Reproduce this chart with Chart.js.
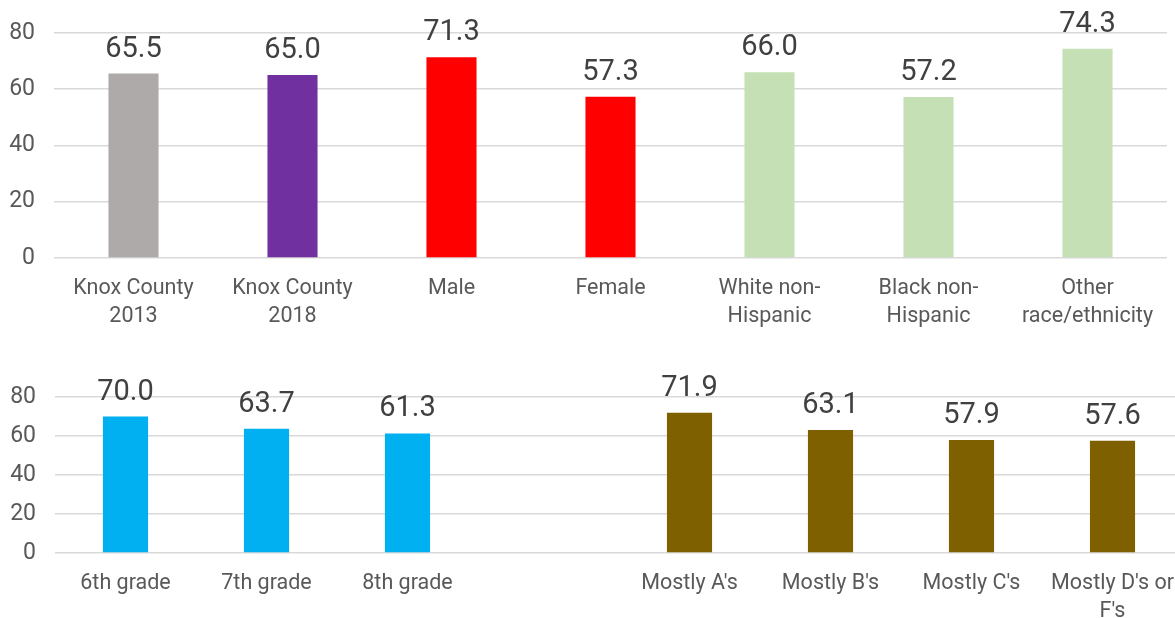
<!DOCTYPE html>
<html>
<head>
<meta charset="utf-8">
<script src="https://cdn.jsdelivr.net/npm/chart.js@4"></script>
<style>
  body { margin: 0; width: 1175px; height: 618px; overflow: hidden; background: #fff; }
  #topBox { position: absolute; left: 0; top: 0; width: 1175px; height: 340px; }
  #botBox { position: absolute; left: 0; top: 340px; width: 1183px; height: 278px; }
</style>
</head>
<body>
<div id="topBox"><canvas id="topChart" width="1175" height="340"></canvas></div>
<div id="botBox"><canvas id="botChart" width="1183" height="278"></canvas></div>
<script>
// top panel
var topLabels = [
  ["Knox County", "2013"],
  ["Knox County", "2018"],
  "Male",
  "Female",
  ["White non-", "Hispanic"],
  ["Black non-", "Hispanic"],
  ["Other", "race/ethnicity"],
];
var topValues = [65.5, 65.0, 71.3, 57.3, 66.0, 57.2, 74.3];
var topColors = ["#AEAAAA", "#7030A0", "#FF0000", "#FF0000", "#C5E0B4", "#C5E0B4", "#C5E0B4"];

// bottom panel (one empty slot between grade and marks groups)
var botLabels = [
  "6th grade",
  "7th grade",
  "8th grade",
  "",
  "Mostly A's",
  "Mostly B's",
  "Mostly C's",
  ["Mostly D's or", "F's"],
];
var botValues = [70.0, 63.7, 61.3, null, 71.9, 63.1, 57.9, 57.6];
var botColors = ["#00B0F0", "#00B0F0", "#00B0F0", "#00B0F0", "#7F6000", "#7F6000", "#7F6000", "#7F6000"];

var yTicks = [0, 20, 40, 60, 80];

var FONT = "Roboto, 'Liberation Sans', sans-serif";

// value labels above bars, allowed to spill over the plot top
var valueLabels = {
  id: "valueLabels",
  afterDatasetsDraw: function (chart) {
    var ctx = chart.ctx;
    var ds = chart.data.datasets[0];
    var meta = chart.getDatasetMeta(0);
    ctx.save();
    ctx.font = "29px " + FONT;
    ctx.fillStyle = "#404040";
    ctx.textAlign = "center";
    ctx.textBaseline = "alphabetic";
    meta.data.forEach(function (bar, i) {
      var v = ds.data[i];
      if (v === null) return;
      ctx.fillText(v.toFixed(1), bar.x, bar.y - 17);
    });
    ctx.restore();
  },
};

function makeChart(id, labels, values, colors, padTop, padRight, yWidth, xHeight, pct) {
  return new Chart(id, {
    type: "bar",
    data: {
      labels: labels,
      datasets: [{
        data: values,
        backgroundColor: colors,
        barPercentage: pct,
        categoryPercentage: 1,
      }],
    },
    plugins: [valueLabels],
    options: {
      responsive: false,
      animation: false,
      layout: { padding: { top: padTop, left: 0, right: padRight, bottom: 0 } },
      plugins: { legend: { display: false }, tooltip: { enabled: false } },
      scales: {
        x: {
          grid: { display: false },
          border: { display: false },
          ticks: {
            color: "#595959",
            font: { family: FONT, size: 21.5, lineHeight: 1.3 },
            padding: 9,
            maxRotation: 0,
            autoSkip: false,
          },
          afterFit: function (s) { s.height = xHeight; },
        },
        y: {
          min: 0,
          max: 80,
          afterBuildTicks: function (s) {
            s.ticks = yTicks.map(function (v) { return { value: v }; });
          },
          grid: { color: "#D9D9D9", lineWidth: 1.5, drawTicks: false },
          border: { display: false },
          ticks: {
            color: "#595959",
            font: { family: FONT, size: 23 },
            padding: 19,
          },
          afterFit: function (s) { s.width = yWidth; },
        },
      },
    },
  });
}

makeChart("topChart", topLabels, topValues, topColors, 29, 8, 54, 82, 0.315);
makeChart("botChart", botLabels, botValues, botColors, 57, 0, 55, 65, 0.32);
</script>
</body>
</html>
